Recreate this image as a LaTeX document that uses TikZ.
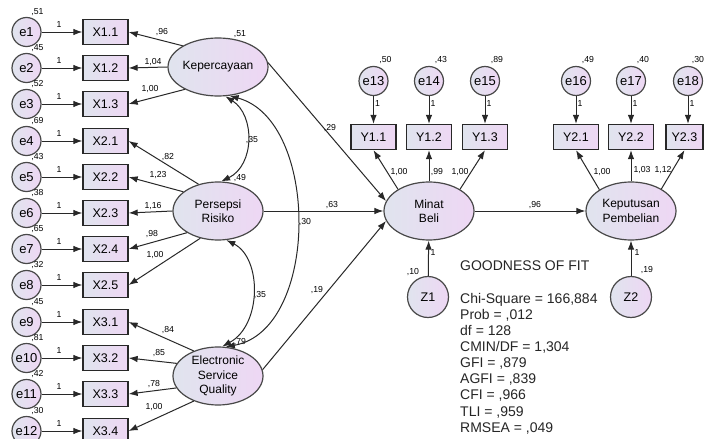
\documentclass[tikz,border=0pt]{standalone}
\usepackage{fontspec}
\setmainfont{Liberation Sans}
\usetikzlibrary{arrows.meta,shapes.geometric}
\definecolor{shadeA}{RGB}{224,228,238}
\definecolor{shadeB}{RGB}{238,215,244}
\definecolor{edgegray}{RGB}{72,72,72}
\definecolor{linegray}{RGB}{40,40,40}
\begin{document}
\begin{tikzpicture}[x=1pt,y=-1pt,
  errc/.style={circle,draw=edgegray,line width=1.2pt,left color=shadeA,right color=shadeB,
    minimum size=29pt,inner sep=0pt,font=\fontsize{13}{13}\selectfont},
  distc/.style={errc,minimum size=41pt,font=\fontsize{12.5}{13}\selectfont},
  obsbox/.style={rectangle,draw=linegray,line width=1.3pt,left color=shadeA,right color=shadeB,
    minimum width=45pt,minimum height=25pt,inner sep=0pt,font=\fontsize{12.5}{13}\selectfont},
  latent/.style={ellipse,draw=edgegray,line width=1.2pt,left color=shadeA,right color=shadeB,
    minimum width=90pt,minimum height=58pt,inner sep=0pt,align=center,
    font=\fontsize{12}{14.5}\selectfont},
  arr/.style={-{Latex[length=9pt,width=6.5pt]},draw=linegray,line width=1pt},
  dbl/.style={{Latex[length=9pt,width=6.5pt]}-{Latex[length=9pt,width=6.5pt]},draw=linegray,line width=1pt},
  lbl/.style={font=\fontsize{8.7}{9}\selectfont,inner sep=0pt},
  gof/.style={font=\fontsize{14}{16.1}\selectfont,inner sep=0pt,align=left,text=black!85}]

\fill[white] (0,0) rectangle (705,439);
\useasboundingbox (0,0) rectangle (705,439);

% latent constructs
\node[latent] (kep) at (218,67) {Kepercayaan};
\node[latent] (per) at (218,211) {Persepsi\\Risiko};
\node[latent] (esq) at (218,376) {Electronic\\Service\\Quality};
\node[latent] (mb)  at (429,211) {Minat\\Beli};
\node[latent] (kp)  at (631,211) {Keputusan\\Pembelian};

% exogenous indicators with their error terms
\foreach \i/\y/\v/\t in {1/32/{,51}/X1.1, 2/68/{,45}/X1.2, 3/104/{,52}/X1.3,
    4/141/{,69}/X2.1, 5/177/{,43}/X2.2, 6/213/{,38}/X2.3, 7/249/{,65}/X2.4, 8/285/{,32}/X2.5,
    9/322/{,45}/X3.1, 10/358/{,81}/X3.2, 11/394/{,42}/X3.3, 12/431/{,30}/X3.4}{
  \node[errc] (e\i) at (26.5,\y) {e\i};
  \node[obsbox] (x\i) at (105.5,\y) {\t};
  \node[lbl] (ev\i) at (37.5,\y-19.5) {\v};
  \draw[arr] (e\i) -- (x\i);
  \node[lbl] (ew\i) at (59,\y-7) {1};
}

% loadings from the exogenous constructs
\foreach \s/\a/\i/\lx/\ly/\v in {kep/149/1/162/32/{,96}, kep/180/2/153/62/{1,04}, kep/-146/3/150/89/{1,00},
    per/126/4/168/157/{,82}, per/151/5/158/175/{1,23}, per/180/6/153/206/{1,16},
    per/-145/7/152/234/{,98}, per/-123/8/155/255/{1,00},
    esq/134/9/168/330/{,84}, esq/163/10/159/353/{,85}, esq/-164/11/154/384/{,78}, esq/-134/12/154/407/{1,00}}{
  \draw[arr] (\s.\a) -- (x\i.east);
  \node[lbl] (lw\i) at (\lx,\ly) {\v};
}

% endogenous indicators with their error terms
\foreach \n/\x/\t/\v in {13/373.5/Y1.1/{,50}, 14/429/Y1.2/{,43}, 15/485/Y1.3/{,89},
    16/576/Y2.1/{,49}, 17/631/Y2.2/{,40}}{
  \node[errc] (e\n) at (\x,81) {e\n};
  \node[obsbox] (y\n) at (\x,137) {\t};
  \node[lbl] (ev\n) at (\x+12,60) {\v};
  \draw[arr] (e\n) -- (y\n);
  \node[lbl] (ew\n) at (\x+4,104) {1};
}
\node[errc] (e18) at (688,81) {e18};
\node[obsbox,minimum width=37pt] (y18) at (684.5,137) {Y2.3};
\node[lbl] (ev18) at (698,60) {,30};
\draw[arr] (e18) -- (e18 |- y18.north);
\node[lbl] (ew18) at (692,104) {1};

% loadings of the endogenous constructs
\draw[arr] (mb.145) -- (y13.south);
\draw[arr] (mb.90)  -- (y14.south);
\draw[arr] (mb.35)  -- (y15.south);
\draw[arr] (kp.146) -- (y16.south);
\draw[arr] (kp.90)  -- (y17.south);
\draw[arr] (kp.36)  -- (y18.south);
\node[lbl] (m1) at (399,172) {1,00};
\node[lbl] (m2) at (437,172) {,99};
\node[lbl] (m3) at (460,172) {1,00};
\node[lbl] (k1) at (602,172) {1,00};
\node[lbl] (k2) at (642,170) {1,03};
\node[lbl] (k3) at (663,170) {1,12};

% structural paths
\draw[arr] (kep.5) -- (mb.167);
\draw[arr] (per.0) -- (mb.180);
\draw[arr] (esq.8) -- (mb.193);
\draw[arr] (mb.0) -- (kp.180);
\node[lbl] (p1) at (330,128) {,29};
\node[lbl] (p2) at (332,205) {,63};
\node[lbl] (p3) at (317,290) {,19};
\node[lbl] (p4) at (535,205) {,96};

% disturbances
\node[distc] (z1) at (428,297) {Z1};
\node[distc] (z2) at (631,297) {Z2};
\draw[arr] (z1) -- (mb);
\draw[arr] (z2) -- (kp);
\node[lbl] (zw1) at (433,253) {1};
\node[lbl] (zv1) at (413,272) {,10};
\node[lbl] (zw2) at (637,253) {1};
\node[lbl] (zv2) at (647,270) {,19};

% variances of the exogenous constructs
\node[lbl] (kv) at (240,34) {,51};
\node[lbl] (pv) at (240,178) {,49};
\node[lbl] (qv) at (240,342) {,79};

% covariances
\draw[dbl] (kep.-76) .. controls (255,115) and (255,165) .. (per.84);
\draw[dbl] (per.-74) .. controls (262,258) and (262,325) .. (esq.82);
\draw[dbl] (kep.-68) .. controls (320,120) and (320,330) .. (esq.75);
\node[lbl] (c1) at (252,140) {,35};
\node[lbl] (c2) at (260,295) {,35};
\node[lbl] (c3) at (305,222) {,30};

% fit statistics
\node[gof,anchor=west] (gtitle) at (460,266) {GOODNESS OF FIT};
\node[gof,anchor=north west] (glist) at (460,293) {Chi-Square = 166,884\\Prob = ,012\\df = 128\\CMIN/DF = 1,304\\GFI = ,879\\AGFI = ,839\\CFI = ,966\\TLI = ,959\\RMSEA = ,049};
\end{tikzpicture}
\end{document}
